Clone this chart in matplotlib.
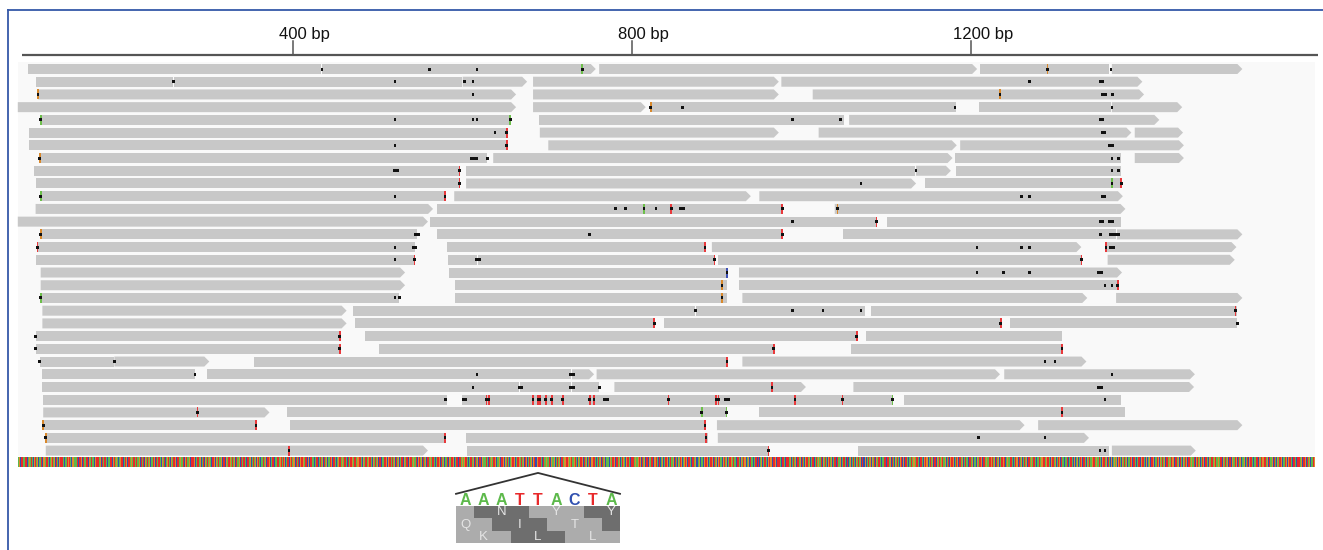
import matplotlib
matplotlib.use('Agg')
import matplotlib.pyplot as plt
from matplotlib.patches import Polygon, Rectangle
from matplotlib.lines import Line2D

plt.rcParams['font.family'] = 'Liberation Sans'

# image geometry (pixels) and genomic scale
W, H = 1323, 550
BP0 = 54.0          # position at the left edge
BP_PER_PX = 1.18

ticks = [400, 800, 1200]
view_start, view_end = 75, 1606

# reads per row: (start, end, has_arrow)
reads = [
    [(87, 434, 0), (434, 758, 1), (761, 1208, 1), (1210, 1364, 0), (1366, 1521, 1)],
    [(96, 259, 0), (259, 600, 0), (600, 677, 1), (683, 974, 1), (976, 1403, 1)],
    [(99, 664, 1), (683, 974, 1), (1013, 1405, 1)],
    [(75, 664, 1), (683, 817, 1), (821, 1183, 0), (1209, 1366, 0), (1366, 1450, 1)],
    [(102, 656, 0), (690, 1051, 0), (1056, 1423, 1)],
    [(88, 653, 0), (691, 974, 1), (1020, 1390, 1), (1393, 1451, 1)],
    [(88, 653, 0), (701, 1184, 1), (1187, 1452, 1)],
    [(101, 630, 0), (636, 1179, 1), (1181, 1378, 0), (1393, 1452, 1)],
    [(94, 597, 0), (604, 1135, 0), (1135, 1177, 1), (1182, 1378, 0)],
    [(96, 597, 0), (604, 1136, 1), (1146, 1378, 0)],
    [(102, 580, 0), (590, 941, 1), (950, 1380, 1)],
    [(96, 566, 1), (570, 978, 0), (1039, 1383, 1)],
    [(75, 560, 1), (561, 1089, 0), (1101, 1378, 0)],
    [(102, 547, 0), (570, 978, 0), (1049, 1372, 0), (1372, 1521, 1)],
    [(98, 545, 0), (582, 887, 0), (894, 1331, 1), (1358, 1514, 1)],
    [(96, 544, 0), (583, 618, 0), (618, 898, 0), (901, 1330, 0), (1361, 1512, 1)],
    [(102, 533, 1), (584, 913, 0), (926, 1379, 1)],
    [(102, 533, 1), (591, 913, 0), (926, 1376, 0)],
    [(102, 526, 0), (591, 913, 0), (930, 1338, 1), (1371, 1521, 1)],
    [(104, 464, 1), (471, 875, 0), (875, 1076, 0), (1082, 1515, 0)],
    [(104, 464, 1), (473, 828, 0), (838, 1235, 0), (1246, 1515, 0)],
    [(96, 456, 0), (485, 1066, 0), (1076, 1308, 0)],
    [(96, 456, 0), (501, 969, 0), (1058, 1308, 0)],
    [(101, 189, 0), (189, 302, 1), (354, 913, 0), (930, 1337, 1)],
    [(104, 285, 0), (298, 729, 0), (729, 756, 1), (758, 1235, 1), (1239, 1465, 1)],
    [(104, 668, 0), (668, 729, 0), (729, 762, 0), (779, 1006, 1), (1061, 1464, 1)],
    [(105, 583, 0), (599, 1109, 0), (1121, 1378, 0)],
    [(105, 373, 1), (393, 913, 0), (950, 1382, 0)],
    [(105, 357, 0), (396, 888, 0), (900, 1264, 1), (1279, 1521, 1)],
    [(108, 580, 0), (604, 890, 0), (901, 1340, 1)],
    [(108, 560, 1), (605, 963, 0), (1066, 1364, 0), (1366, 1466, 1)],
]

# mismatches per row: k = small dot, K = dash, r/o/g/b = coloured base
marks = [
    [(434, 'k'), (561, 'k'), (617, 'k'), (741, 'g'), (1290, 'o'), (1365, 'k')],
    [(259, 'k'), (520, 'k'), (602, 'k'), (612, 'k'), (1269, 'k'), (1354, 'K')],
    [(99, 'o'), (612, 'k'), (1234, 'o'), (1357, 'K'), (1367, 'k')],
    [(822, 'o'), (859, 'k'), (1181, 'k'), (1366, 'k')],
    [(102, 'g'), (520, 'k'), (612, 'k'), (617, 'k'), (656, 'g'), (989, 'k'), (1046, 'k'), (1354, 'K')],
    [(638, 'k'), (652, 'r'), (1356, 'K')],
    [(520, 'k'), (652, 'r'), (1365, 'K')],
    [(101, 'o'), (612, 'K'), (617, 'k'), (629, 'k'), (1366, 'k'), (1374, 'k')],
    [(521, 'K'), (596, 'r'), (1135, 'k'), (1366, 'k'), (1374, 'k')],
    [(596, 'r'), (1070, 'k'), (1366, 'g'), (1377, 'r')],
    [(102, 'g'), (520, 'k'), (579, 'r'), (1259, 'k'), (1269, 'k'), (1356, 'K')],
    [(780, 'k'), (792, 'k'), (814, 'g'), (828, 'k'), (846, 'r'), (859, 'K'), (977, 'r'), (1042, 'o')],
    [(989, 'k'), (1088, 'r'), (1354, 'K'), (1365, 'K')],
    [(102, 'o'), (546, 'K'), (750, 'k'), (977, 'r'), (1353, 'k'), (1366, 'K'), (1372, 'K')],
    [(98, 'r'), (520, 'k'), (543, 'K'), (886, 'r'), (1207, 'k'), (1259, 'k'), (1269, 'k'), (1359, 'r'), (1366, 'K')],
    [(520, 'k'), (543, 'r'), (618, 'K'), (897, 'r'), (1330, 'r')],
    [(912, 'b'), (1207, 'k'), (1238, 'k'), (1269, 'k'), (1352, 'K')],
    [(906, 'o'), (1358, 'k'), (1366, 'k'), (1373, 'r')],
    [(102, 'g'), (520, 'k'), (525, 'k'), (906, 'o')],
    [(875, 'k'), (989, 'k'), (1025, 'k'), (1070, 'k'), (1512, 'r')],
    [(826, 'r'), (1235, 'r'), (1514, 'k')],
    [(96, 'k'), (455, 'r'), (1065, 'r')],
    [(96, 'k'), (455, 'r'), (967, 'r'), (1307, 'r')],
    [(101, 'k'), (189, 'k'), (912, 'r'), (1287, 'k'), (1299, 'k')],
    [(284, 'k'), (617, 'k'), (729, 'K'), (1366, 'k')],
    [(612, 'k'), (668, 'K'), (729, 'K'), (761, 'k'), (965, 'r'), (1352, 'K')],
    [(580, 'k'), (602, 'K'), (628, 'r'), (631, 'r'), (683, 'r'), (689, 'r'), (691, 'r'),
     (698, 'r'), (705, 'r'), (718, 'r'), (750, 'r'), (755, 'r'), (769, 'K'), (843, 'r'),
     (899, 'r'), (902, 'r'), (912, 'K'), (992, 'r'), (1048, 'r'), (1107, 'g'), (1358, 'k')],
    [(287, 'r'), (882, 'g'), (911, 'g'), (1307, 'r')],
    [(105, 'o'), (356, 'r'), (886, 'r')],
    [(108, 'o'), (579, 'r'), (887, 'r'), (1209, 'k'), (1287, 'k')],
    [(395, 'r'), (961, 'r'), (1352, 'k'), (1358, 'k')],
]

sequence = ''.join([
    'ATGCTTAAGTTCAGATTACGTTAGCAATTCGGATTTACAGTTAGCTAACGTTTAGCAATG',
    'TTACGGATAATCTTAGCTAAGTTCGATTAACGTATTAGCTGATTACGAATTCGTTAGACT',
    'AGTTCAATGCTTAGGATTACTAAGCTTATCGATTAGCAATTGCTAGTTACGATTCAGTTA',
    'CGATTAGCTTAGCAATCGTTAAGCTATTGCAGTTAGCATTCGATTAGACTTAGCGATTAA',
    'GCTTACGATTGCATAGCTTAAGCTGATTACGTTAGCATTAGCGTTACAATTAGCTTAGCA',
    'TTCGAATTAGCTATGCAATTCGTTAGGCTAATCGTTAGATTCAGCTTAAGCATTCGATAG',
    'CTTAGCAATTGCTTAGCAGTTACGATTAGCTATTGCATTAGCGTTACGAATTAGCTTACG',
    'ATTAGCTTGCAATTAGCGTTACTAGCTTAGCATTGCGATTACGTTAGCAATCGTTAGCTA',
    'AGCTTAGCATTACGATTGCTTAGCAATTCGATTAGCATTGCTTAGACGTTACGATTAGCT',
    'TAGCTTACGAAATTACTAGCATTGCTAAGCTTAGCGATTACAGTTAGCATTCGATAGCTT',
    'GCATAAGCGTCACGTTTAGCTAAGCAATCGATAGCATGAGCTTACGGTTGCAGTAAGCTA',
    'CGATTTGCTAAGCATCGCGTTACGATAGCTGAGCAATACGATTAGCTTACGCATGAGCGT',
    'TACGTTTAGCAAGTGCTTAGCTTTCGATTACGGTAGCTCAGCAATTGCGATAAGCTTACG',
    'ATTGCAGTAGCTTACGTTAGCTCAGCAATCGTTGCCATTGCTTAGCGATAACGTCAGCAT',
    'TCGATAAGCTTACGAATGGCTAGCTAAGCATTCGTCAGCAATTACGATGGCTTAGCTTTA',
    'GCTTACGTTTAGCAATAGCGTTAGCTTACGTTTAGCATTGCATAGCAATCGATTACGTAA',
    'GCATTGCTAAGCGATTACGTCAGCAATACGATTAGCTCACGCATTAGCGATACGATTAGC',
    'AATTGCTTAGCATACGATTACGTCAGCTTAGCAATAGCGATTAGCTTACGATGGCATTAG',
    'CTTACGATAGCTAAGCAATCGTTAGCATGGCTTAGCGATAACGTTAGCATACGATTAGCT',
    'TACGAATTGCTAGCTAAGCATTCGTCAGCAATTACGATGGCTTAGCATAAGCTTACGATT',
    'AGCAATAGCGTTAGCTTACGTTTAGCATTGCTAAGCAATCGATTACGTCAGCATTGCTTA',
    'GCGATAACGTTAGCAATACGATTAGCTTACGCATGAGCGTTACGATTAGCAATAGCTTAG',
    'CATTCGATTACGTCAGCTTAGCAATTGCGATAAGCTTACGATGGCATTAGCTAACGATAG',
    'CTTAGCAATCGTTAGCATGGCTTAGCGATTACGTAAGCATTCGATTAGCTTACGAATAGC',
    'TAGCTAAGCATTCGTTAGCAATTACGATGGCTTAGCATAAGCTTACGATTAGCAATAGCG',
    'TTAGCTTACGTTTAGCATTGCTAAGCAATCGATTACGTTAGCATGGCTTAGCGATTACGT',
])

zoom_bases = 'AAATTACTA'
# reading frames shown under the zoomed bases: (first codon start, amino acids)
frame_codons = [(-2, ['', 'N', 'Y', 'Y']),
                (-1, ['Q', 'I', 'T', '']),
                (0, ['K', 'L', 'L'])]

base_colors = {'A': '#5db94b', 'C': '#3050b0', 'G': '#e08a2b', 'T': '#e8292b'}
mark_colors = {'r': '#e8393c', 'o': '#d9892c', 'g': '#6dbf4b', 'b': '#3f51b5'}

READ_COLOR = '#c8c8c8'
ROW0, ROW_STEP, READ_H = 69.0, 12.72, 10.0
TIP = 5 * BP_PER_PX

fig = plt.figure(figsize=(W / 100, H / 100), dpi=100)
ax = fig.add_axes([0, 0, 1, 1])
ax.set_xlim(BP0, BP0 + W * BP_PER_PX)
ax.set_ylim(H, 0)
ax.axis('off')

# blue frame of the screenshot
fig.add_artist(Line2D([8 / W, 8 / W], [0, 1 - 10 / H], color='#3558a8', lw=1.3,
                      transform=fig.transFigure))
fig.add_artist(Line2D([8 / W, 1], [1 - 10 / H, 1 - 10 / H], color='#3558a8', lw=1.3,
                      transform=fig.transFigure))

# ruler
ax.plot([80, 1609], [55, 55], color='#555555', lw=1.6, solid_capstyle='butt')
for t in ticks:
    ax.plot([t, t], [41, 55], color='#555555', lw=1.1)
    num = str(t)
    ax.annotate(f'{num} bp', (t, 39), xytext=(-len(num) * 0.556 * 12 / 2, 0),
                textcoords='offset points', ha='left', va='baseline',
                fontsize=12, color='#111111')

# panel background
ax.add_patch(Rectangle((view_start, 62), view_end - view_start, 394,
                       facecolor='#f9f9f9', edgecolor='none', zorder=0))

for r, row in enumerate(reads):
    yc = ROW0 + r * ROW_STEP
    y0, y1 = yc - READ_H / 2, yc + READ_H / 2
    for s, e, arrow in row:
        e = e - 1.0
        if arrow:
            pts = [(s, y0), (e - TIP, y0), (e, yc), (e - TIP, y1), (s, y1)]
        else:
            pts = [(s, y0), (e, y0), (e, y1), (s, y1)]
        ax.add_patch(Polygon(pts, closed=True, facecolor=READ_COLOR,
                             edgecolor='none', zorder=1))
    for pos, kind in marks[r]:
        if kind in mark_colors:
            ax.add_patch(Rectangle((pos - 0.9, y0), 1.9, READ_H,
                                   facecolor=mark_colors[kind], edgecolor='none',
                                   zorder=2))
            w = 3.2
        elif kind == 'K':
            w = 6.5
        else:
            w = 3.2
        ax.add_patch(Rectangle((pos - w / 2, yc - 1.5), w, 3.0,
                               facecolor='#111111', edgecolor='none', zorder=3))

# reference sequence bar
seq = sequence[:view_end - view_start]
for base, col in base_colors.items():
    spans = [(view_start + i, 1) for i, b in enumerate(seq) if b == base]
    ax.broken_barh(spans, (457, 10), facecolors=col, edgecolors='none',
                   antialiased=True, zorder=1)

# zoomed inset with bases and translation frames
ins = fig.add_axes([456 / W, (H - 543) / H, 164 / W, 71.3 / H])
ins.set_xlim(0, len(zoom_bases))
ins.set_ylim(0, 5.8)
ins.axis('off')
ins.plot([0, 4.5, 9], [4.0, 5.7, 4.0], color='#333333', lw=1.3, clip_on=False)
for i, b in enumerate(zoom_bases):
    ins.text(i + 0.5, 3.45, b, ha='center', va='center', fontsize=11.5,
             fontweight='bold', color=base_colors[b])
shades = ['#acacac', '#6e6e6e']
for k, (start, aas) in enumerate(frame_codons):
    yb = 2 - k
    for j, aa in enumerate(aas):
        a = max(start + 3 * j, 0)
        b = min(start + 3 * j + 3, len(zoom_bases))
        if b <= a:
            continue
        ins.add_patch(Rectangle((a, yb), b - a, 1, facecolor=shades[j % 2],
                                edgecolor='none'))
        if aa:
            ins.text(start + 3 * j + 1.5, yb + 0.5, aa, ha='center', va='center',
                     fontsize=9.5, color='#e4e4e4')

fig.savefig('out.png', dpi=100)
